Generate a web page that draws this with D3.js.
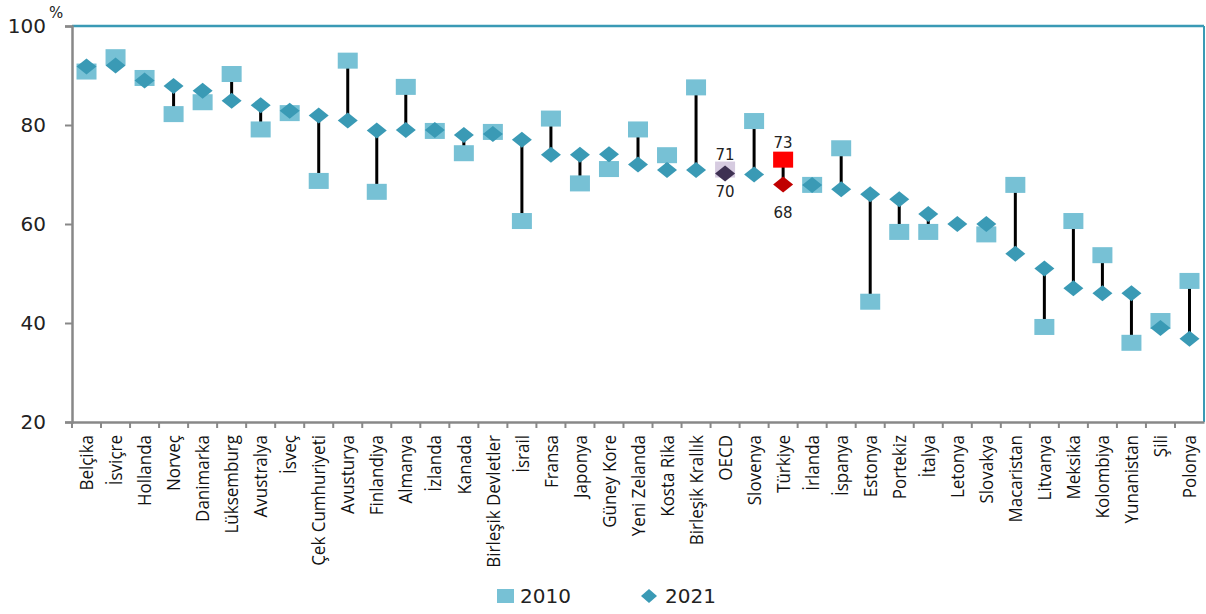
<!DOCTYPE html>
<html>
<head>
<meta charset="utf-8">
<script src="https://cdn.jsdelivr.net/npm/d3@7"></script>
<style>
  body { margin: 0; background: #fff; }
  svg { display: block; }
</style>
</head>
<body>
<svg width="1206" height="614"></svg>
<script>
const countries = ["Belçika", "İsviçre", "Hollanda", "Norveç", "Danimarka", "Lüksemburg", "Avustralya",
  "İsveç", "Çek Cumhuriyeti", "Avusturya", "Finlandiya", "Almanya", "İzlanda", "Kanada",
  "Birleşik Devletler", "İsrail", "Fransa", "Japonya", "Güney Kore", "Yeni Zelanda", "Kosta Rika",
  "Birleşik Krallık", "OECD", "Slovenya", "Türkiye", "İrlanda", "İspanya", "Estonya", "Portekiz",
  "İtalya", "Letonya", "Slovakya", "Macaristan", "Litvanya", "Meksika", "Kolombiya", "Yunanistan",
  "Şili", "Polonya"];

const v2010 = [90.8, 93.7, 89.5, 82.2, 84.6, 90.3, 79.1, 82.4, 68.7, 93, 66.5, 87.7, 78.8, 74.3,
  78.6, 60.6, 81.3, 68.2, 71.1, 79.1, 73.9, 87.6, 71, 80.8, 73, 67.9, 75.3, 44.3, 58.4,
  58.4, null, 57.9, 67.9, 39.2, 60.6, 53.7, 36, 40.4, 48.5];

const v2021 = [91.8, 92, 89, 87.9, 86.9, 84.9, 84, 82.9, 81.9, 80.9, 78.9, 79, 79, 78,
  78.2, 77, 74, 74, 74.1, 72, 70.9, 70.9, 70.2, 70, 68, 67.9, 67, 66, 65,
  62, 60, 60, 54, 51, 47, 46, 46, 39, 36.8];

const yTicks = [20, 40, 60, 80, 100];

// highlighted entries with value labels
const labelled = { "OECD": [71, 70], "Türkiye": [73, 68] };

const svg = d3.select("svg");
const m = { left: 72, right: 1204, top: 26, bottom: 422 };

const x = d3.scaleBand().domain(countries).range([m.left, m.right]);
const y = d3.scaleLinear().domain([20, 100]).range([m.bottom, m.top]);

const rows = countries.map((c, i) => ({ c, a: v2010[i], b: v2021[i] }));

function sqColor(c) { return c === "OECD" ? "#d6cbe0" : c === "Türkiye" ? "#ff0000" : "#77c1d5"; }
function dmColor(c) { return c === "OECD" ? "#3e3152" : c === "Türkiye" ? "#c00000" : "#3a9ab5"; }

// frame: top and right in teal
svg.append("line").attr("x1", m.left).attr("x2", m.right).attr("y1", m.top).attr("y2", m.top)
  .attr("stroke", "#3a9ab5").attr("stroke-width", 2.5);
svg.append("line").attr("x1", m.right).attr("x2", m.right).attr("y1", m.top).attr("y2", m.bottom)
  .attr("stroke", "#3a9ab5").attr("stroke-width", 2);

// y axis
const yAxis = svg.append("g").attr("transform", `translate(${m.left},0)`)
  .call(d3.axisLeft(y).tickValues(yTicks).tickSize(7).tickPadding(19));
yAxis.select(".domain").attr("stroke", "#888").attr("stroke-width", 2.5);
yAxis.selectAll(".tick line").attr("stroke", "#888").attr("stroke-width", 2);
yAxis.selectAll("text").attr("font-family", "DejaVu Sans").attr("font-size", 20).attr("fill", "#222");

svg.append("text").attr("x", 49).attr("y", 18).text("%")
  .attr("font-family", "DejaVu Sans").attr("font-size", 15).attr("fill", "#222");

// x axis
const xAxis = svg.append("g").attr("transform", `translate(0,${m.bottom})`)
  .call(d3.axisBottom(x).tickSize(0).tickPadding(0));
xAxis.select(".domain").attr("stroke", "#888").attr("stroke-width", 2.5);
xAxis.selectAll(".tick text")
  .attr("font-family", "Open Sans").attr("font-size", 17).attr("fill", "#111")
  .attr("text-anchor", "end").attr("transform", "rotate(-90) scale(1,1.12)")
  .attr("x", -13).attr("y", 0).attr("dy", "0.35em");
svg.append("g").selectAll("line")
  .data(countries)
  .join("line")
  .attr("x1", d => x(d)).attr("x2", d => x(d))
  .attr("y1", m.bottom).attr("y2", m.bottom + 6)
  .attr("stroke", "#888").attr("stroke-width", 2);

const cx = d => x(d.c) + x.bandwidth() / 2;

// connector lines
svg.append("g").selectAll("line")
  .data(rows.filter(d => d.a != null))
  .join("line")
  .attr("x1", cx).attr("x2", cx)
  .attr("y1", d => y(d.a)).attr("y2", d => y(d.b))
  .attr("stroke", "#000").attr("stroke-width", 3);

// 2010 squares
svg.append("g").selectAll("rect")
  .data(rows.filter(d => d.a != null))
  .join("rect")
  .attr("x", d => cx(d) - 10).attr("y", d => y(d.a) - 8)
  .attr("width", 20).attr("height", 16)
  .attr("fill", d => sqColor(d.c));

// 2021 diamonds
const diamond = "M0,-8L10,0L0,8L-10,0Z";
svg.append("g").selectAll("path")
  .data(rows)
  .join("path")
  .attr("d", diamond)
  .attr("transform", d => `translate(${cx(d)},${y(d.b)})`)
  .attr("fill", d => dmColor(d.c));

// value labels
Object.entries(labelled).forEach(([c, vals]) => {
  const r = rows.find(d => d.c === c);
  const hi = Math.max(r.a, r.b), lo = Math.min(r.a, r.b);
  const g = svg.append("g").attr("font-family", "DejaVu Sans").attr("font-size", 15)
    .attr("fill", "#222").attr("text-anchor", "middle");
  g.append("text").attr("x", cx(r)).attr("y", y(hi) - (c === "OECD" ? 10 : 12)).text(vals[0]);
  g.append("text").attr("x", cx(r)).attr("y", y(lo) + (c === "OECD" ? 23 : 34)).text(vals[1]);
});

// legend
const lg = svg.append("g").attr("font-family", "DejaVu Sans").attr("font-size", 20).attr("fill", "#222");
lg.append("rect").attr("x", 497).attr("y", 589).attr("width", 17).attr("height", 14).attr("fill", "#77c1d5");
lg.append("text").attr("x", 520).attr("y", 603).text("2010");
lg.append("path").attr("d", "M0,-7L8,0L0,7L-8,0Z").attr("transform", "translate(649,596)").attr("fill", "#3a9ab5");
lg.append("text").attr("x", 665).attr("y", 603).text("2021");
</script>
</body>
</html>
